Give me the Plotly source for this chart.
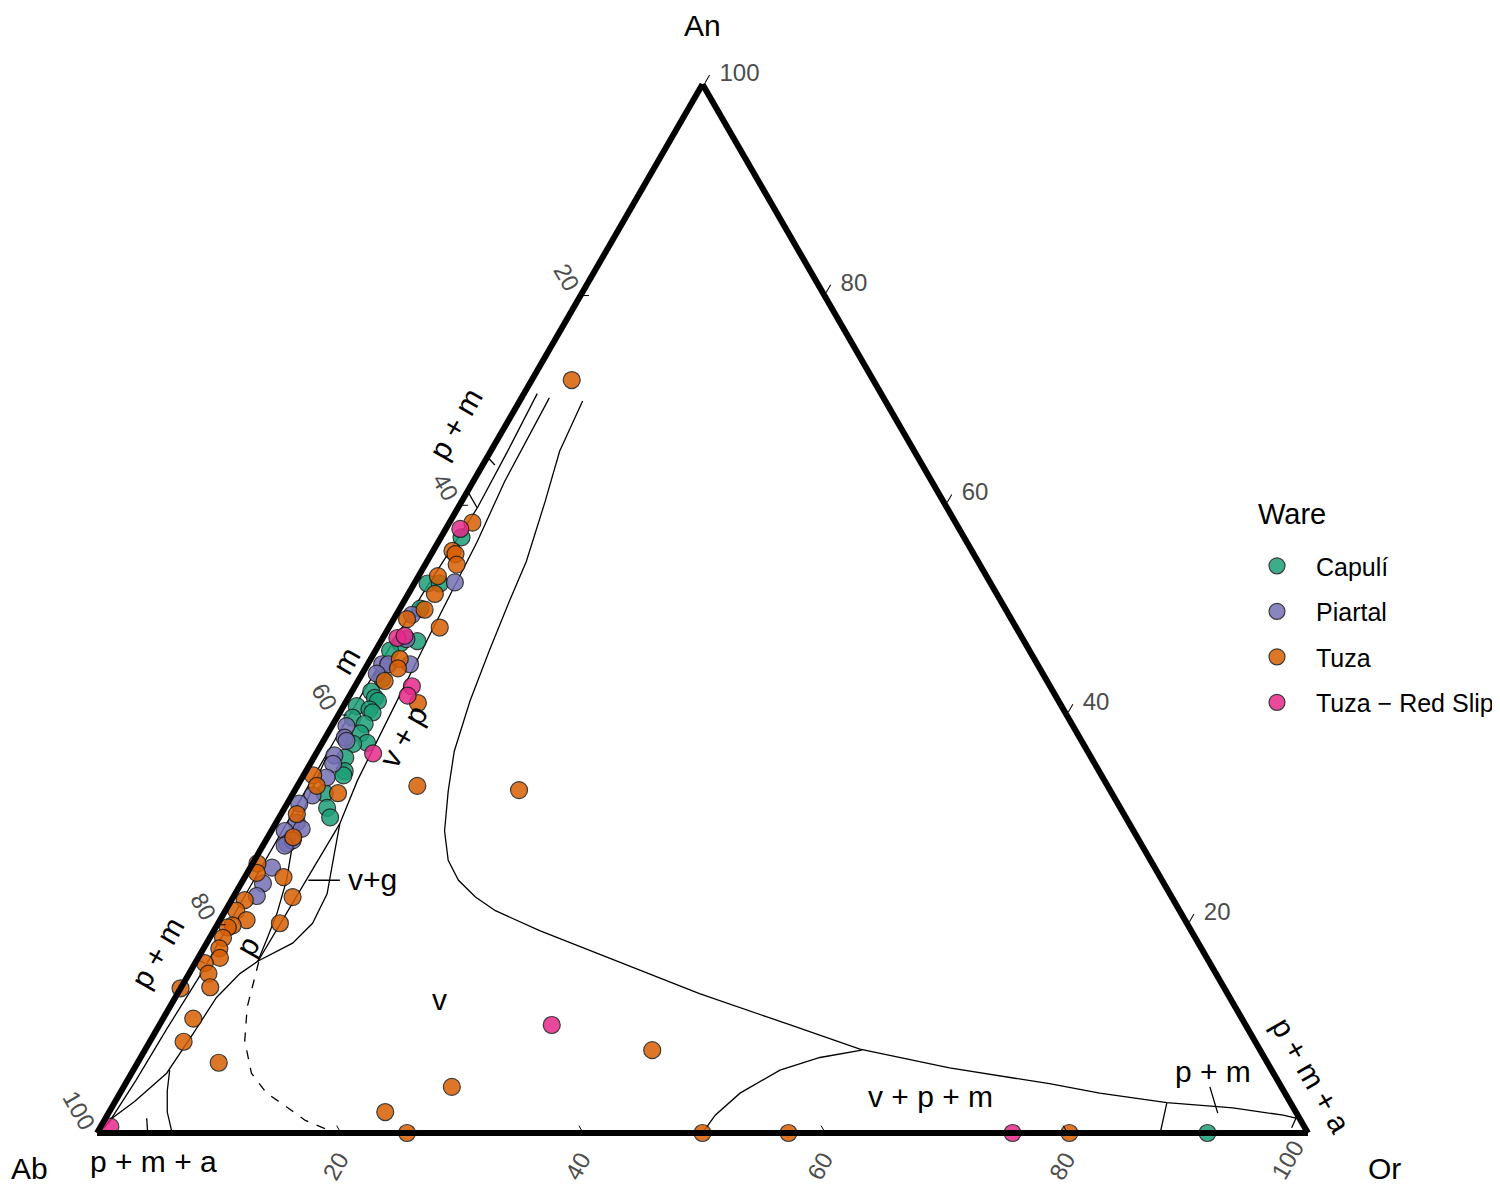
import plotly.graph_objects as go

capuli_an = [56.8, 52.4, 52.4, 50.0, 46.7, 46.9, 46.0, 43.3, 42.1, 41.5, 41.2, 40.7, 40.4,
             40.1, 39.6, 39.0, 38.1, 37.2, 37.1, 35.8, 34.5, 34.1, 32.4, 31.0, 30.1, 0.0]
capuli_or = [1.7, 1.1, 2.1, 1.7, 1.7, 3.0, 1.2, 1.9, 1.6, 2.2, 2.6, 1.1, 2.3,
             2.7, 1.3, 2.6, 2.7, 3.7, 2.6, 2.6, 3.2, 3.3, 2.6, 3.5, 4.2, 91.7]

piartal_an = [52.5, 49.4, 47.1, 44.7, 44.7, 44.7, 43.8, 38.8, 37.7, 37.4, 36.0, 35.2, 33.9,
              32.2, 31.4, 29.6, 28.8, 29.0, 27.6, 27.9, 27.4, 25.3, 23.8, 22.6]
piartal_or = [3.3, 1.3, 2.0, 1.2, 1.7, 3.5, 1.2, 1.2, 1.6, 1.9, 1.6, 1.9, 2.0,
              1.7, 1.0, 1.7, 1.1, 2.4, 1.9, 2.2, 1.8, 1.8, 1.8, 1.9]

tuza_an = [71.8, 58.2, 55.5, 55.2, 54.2, 53.1, 51.4, 49.9, 49.0, 48.2, 45.2, 44.3, 43.1,
           41.0, 34.1, 33.1, 32.4, 30.4, 28.2, 25.7, 24.4, 24.8, 22.5, 22.2, 21.2, 20.3,
           19.8, 19.6, 20.0, 18.6, 17.6, 16.7, 16.2, 15.2, 13.9, 13.8, 10.9, 8.7, 6.7,
           33.1, 32.7, 7.9, 4.4, 2.0, 0.0, 0.0, 0.0, 0.0]
tuza_or = [3.3, 1.9, 1.6, 2.0, 2.6, 1.6, 2.2, 2.1, 1.1, 4.2, 2.4, 2.7, 2.2,
           6.0, 0.8, 1.6, 3.7, 1.3, 2.1, 0.4, 3.2, 0.8, 4.9, 1.1, 0.9, 2.2,
           1.3, 1.0, 5.1, 1.1, 1.3, 1.8, 0.8, 1.6, 2.4, 0.0, 2.5, 2.8, 6.7,
           9.9, 18.5, 41.9, 27.1, 22.8, 25.6, 50.0, 57.1, 80.3]

redslip_an = [57.6, 47.2, 47.4, 42.6, 41.7, 36.2, 0.6, 10.3, 0.0]
redslip_or = [1.2, 1.2, 1.7, 4.7, 4.8, 4.7, 0.8, 32.4, 75.6]

wares = ['Capulí', 'Piartal', 'Tuza', 'Tuza − Red Slip']
ware_colors = ['#1B9E77', '#7570B3', '#D95F02', '#E7298A']
ware_an = [capuli_an, piartal_an, tuza_an, redslip_an]
ware_or = [capuli_or, piartal_or, tuza_or, redslip_or]

# --- phase field boundaries (An, Or)
edge_an = [70.5, 65.0, 59.6, 52.0, 45.0, 38.0, 30.0, 22.0, 15.0, 10.0, 5.0, 1.5, 0.4]
edge_or = [1.1, 1.4, 1.6, 1.2, 1.0, 0.9, 0.9, 0.9, 1.0, 0.8, 0.7, 0.5, 0.3]
close_an = [59.6, 61.2]
close_or = [1.6, 0.0]
pfield_an = [16.3, 18.4, 20.9, 24.1, 27.2, 31.7, 36.0]
pfield_or = [5.1, 4.8, 4.4, 3.6, 2.5, 1.5, 1.0]
band_an = [0.4, 1.5, 3.0, 5.7, 9.5, 12.9, 15.2, 16.4, 29.5, 33.6, 39.3, 47.9, 56.4, 62.1, 70.1]
band_or = [0.3, 0.6, 1.6, 2.9, 3.2, 3.4, 4.2, 5.1, 5.3, 4.7, 4.3, 3.7, 3.2, 2.6, 2.3]
lens_an = [16.4, 18.1, 20.0, 22.8, 25.7, 29.5]
lens_or = [5.1, 7.1, 7.8, 7.6, 6.6, 5.3]
foot_an = [0.0, 2.0, 4.0, 6.0]
foot_or = [6.2, 4.8, 3.8, 3.0]
dash_an = [16.3, 12.0, 8.8, 5.7, 3.8, 2.9, 1.2, 0.0]
dash_or = [5.2, 6.4, 7.8, 9.9, 12.1, 13.7, 16.6, 19.7]
big_an = [69.8, 65.0, 60.2, 54.5, 50.7, 46.0, 41.2, 36.4, 32.6, 28.8, 26.0, 24.1, 22.5, 21.2,
          19.3, 16.3, 13.3, 10.3, 8.0, 6.2, 4.7, 3.8, 2.9, 2.4, 1.7, 1.4, 0.0]
big_or = [5.2, 5.7, 6.9, 8.2, 8.7, 9.4, 10.2, 11.3, 12.7, 14.3, 16.0, 17.8, 20.0, 22.3,
          26.9, 35.0, 43.1, 52.1, 59.0, 67.3, 76.3, 80.9, 86.9, 92.6, 97.1, 98.4, 100.0]
vpm_an = [0.0, 1.7, 3.8, 6.0, 7.2, 7.9]
vpm_or = [50.0, 50.2, 51.2, 53.4, 56.1, 59.2]
pm_an = [0.0, 2.9]
pm_or = [87.8, 86.9]
corner_an = [0.5, 1.5]
corner_or = [98.4, 98.3]

boundaries = [
    (edge_an, edge_or, 'solid'), (close_an, close_or, 'solid'),
    (pfield_an, pfield_or, 'solid'), (band_an, band_or, 'solid'),
    (lens_an, lens_or, 'solid'), (foot_an, foot_or, 'solid'),
    (dash_an, dash_or, 'dash'), (big_an, big_or, 'solid'),
    (vpm_an, vpm_or, 'solid'), (pm_an, pm_or, 'solid'),
    (corner_an, corner_or, 'solid'),
]

# label leader lines (An, Or)
leaders = [
    ([66.1, 63.7], [-2.1, 1.0]),
    ([24.1, 24.1], [5.4, 8.0]),
    ([17.4, 16.2], [-2.0, 0.8]),
    ([1.4, -1.1], [3.4, 4.8]),
    ([4.4, 1.9], [89.7, 91.6]),
    ([2.2, 1.2], [99.7, 99.0]),
]


def ab_of(an, orr):
    return [round(100 - a - o, 2) for a, o in zip(an, orr)]


fig = go.Figure()

for an, orr, dash in boundaries:
    fig.add_trace(go.Scatterternary(
        a=an, b=ab_of(an, orr), c=orr, mode='lines',
        line=dict(color='black', width=1.3, dash=dash),
        showlegend=False, hoverinfo='skip'
    ))

for an, orr in leaders:
    fig.add_trace(go.Scatterternary(
        a=an, b=ab_of(an, orr), c=orr, mode='lines',
        line=dict(color='black', width=1.3),
        cliponaxis=False, showlegend=False, hoverinfo='skip'
    ))

for name, color, an, orr in zip(wares, ware_colors, ware_an, ware_or):
    fig.add_trace(go.Scatterternary(
        a=an, b=ab_of(an, orr), c=orr, mode='markers', name=name,
        legendgroup=name,
        marker=dict(size=17, color=color, opacity=0.85,
                    line=dict(color='#1a1a1a', width=1.2)),
        cliponaxis=False
    ))

# each edge is labelled with the component that grows along it
tick_vals = [0, 20, 40, 60, 80]
tick_text = ['100', '80', '60', '40', '20']
axis_common = dict(
    tickvals=tick_vals, ticktext=tick_text, ticks='outside', ticklen=9,
    tickcolor='black', tickwidth=1, linewidth=6, linecolor='black',
    showgrid=False, tickfont=dict(size=24, color='#4d4d4d'),
    title=dict(text=''), layer='above traces'
)

labels = [
    ('p + m', 0.3003, 0.6469, -60), ('m', 0.2265, 0.4465, -60),
    ('v + p', 0.2647, 0.3820, -60), ('p', 0.1602, 0.2037, -60),
    ('p + m', 0.1005, 0.1978, -60), ('p + m + a', 0.8733, 0.0934, 60),
    ('p + m + a', 0.0972, 0.0204, 0), ('v', 0.2895, 0.1579, 0),
    ('v + p + m', 0.6180, 0.0756, 0), ('p + m', 0.8076, 0.0968, 0),
    ('v+g', 0.2440, 0.2598, 0),
]
annotations = [
    dict(text=t, x=x, y=y, xref='paper', yref='paper', textangle=ang,
         showarrow=False, xanchor='center', yanchor='middle',
         font=dict(size=30, color='black'))
    for t, x, y, ang in labels
]
# corner (axis) titles
for t, x, y, ya in [('An', 0.4658, 1.0, 'top'), ('Ab', 0.0141, 0.0, 'bottom'),
                    ('Or', 0.9223, 0.0, 'bottom')]:
    annotations.append(dict(
        text=t, x=x, y=y, xref='paper', yref='paper', showarrow=False,
        xanchor='center', yanchor=ya, borderpad=0,
        font=dict(size=30, color='black')
    ))
# Or = 100 tick label sits in the corner, kept inside the page
annotations.append(dict(
    text='100', x=0.8579, y=0.0221, xref='paper', yref='paper', textangle=-60,
    showarrow=False, xanchor='center', yanchor='middle', borderpad=0,
    font=dict(size=24, color='#4d4d4d')
))
annotations.append(dict(
    text='Ware', x=0.8365, y=0.5705, xref='paper', yref='paper',
    showarrow=False, xanchor='left', yanchor='middle',
    font=dict(size=29, color='black')
))

fig.update_layout(
    width=1492, height=1178,
    margin=dict(l=0, r=0, t=0, b=0),
    paper_bgcolor='white',
    font=dict(family='Liberation Sans, Arial, sans-serif', color='black'),
    ternary=dict(
        sum=100, bgcolor='white',
        domain=dict(x=[0.02982, 0.90114], y=[0.04499, 0.93523]),
        aaxis=dict(axis_common, tickangle=60, ticks='inside', ticklen=5),
        baxis=dict(axis_common, tickangle=-60, ticks='inside', ticklen=5,
                   ticktext=[''] + tick_text[1:]),
        caxis=dict(axis_common, tickangle=0,
                   ticktext=['\u00a0' + t for t in tick_text]),
    ),
    legend=dict(
        x=0.8244, y=0.5458, xanchor='left', yanchor='top',
        font=dict(size=25), itemsizing='trace', itemwidth=68,
        tracegroupgap=10, bgcolor='rgba(0,0,0,0)'
    ),
    annotations=annotations,
)

fig.write_html('out.html')
